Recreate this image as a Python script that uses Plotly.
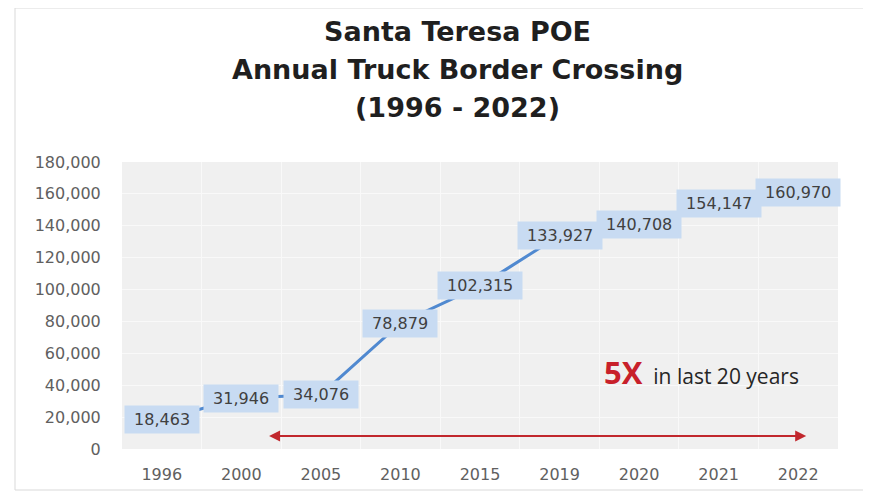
import plotly.graph_objects as go

years = ["1996", "2000", "2005", "2010", "2015", "2019", "2020", "2021", "2022"]
crossings = [18463, 31946, 34076, 78879, 102315, 133927, 140708, 154147, 160970]
y_ticks = [0, 20000, 40000, 60000, 80000, 100000, 120000, 140000, 160000, 180000]

title_lines = ["Santa Teresa POE", "Annual Truck Border Crossing", "(1996 - 2022)"]

TICK_FONT = "'DejaVu Sans', Verdana, sans-serif"
TITLE_FONT = "'DejaVu Sans', 'Open Sans', sans-serif"
NOTE_FONT = "'Open Sans', 'Noto Sans', sans-serif"

# plot area in div pixels (page has an 8px body margin)
W, H = 863, 486
L, T, R, B = 114, 154, 33, 45
PW, PH = W - L - R, H - T - B

fig = go.Figure()
fig.add_trace(go.Scatter(
    x=years, y=crossings, mode="lines",
    line=dict(color="#5089d0", width=3),
    hoverinfo="x+y", showlegend=False,
))

annotations = []
for i, v in enumerate(crossings):
    annotations.append(dict(
        x=i, y=v, xref="x", yref="y", text=f"&nbsp;{v:,}&nbsp;", showarrow=False,
        font=dict(family=TICK_FONT, size=16, color="#404040"),
        bgcolor="#c8dbf2", borderpad=4, xanchor="center", yanchor="middle",
    ))

# red double-headed arrow
annotations.append(dict(
    x=8.1, y=8200, ax=1.33, ay=8200, xref="x", yref="y", axref="x", ayref="y",
    text="", showarrow=True, arrowhead=2, arrowside="end+start",
    arrowsize=1.1, arrowwidth=2, arrowcolor="#c1272d",
))
annotations.append(dict(
    x=(701 - 8 - L) / PW, y=1 - (372 - 8 - T) / PH, xref="paper", yref="paper", showarrow=False,
    text="<b><span style='color:#c8202a;font-size:31px'>5X</span></b>&nbsp; in last 20 years",
    font=dict(family=NOTE_FONT, size=21, color="#262626"), xanchor="center", yanchor="middle",
))
for k, (line, ypix) in enumerate(zip(title_lines, [32, 70, 107])):
    annotations.append(dict(
        x=(457 - 8 - L) / PW, y=1 - (ypix - 8 - T) / PH, xref="paper", yref="paper",
        yanchor="middle", xanchor="center", showarrow=False,
        text="<b>" + line + "</b>",
        font=dict(family=TITLE_FONT, size=27, color="#1f1f1f"),
    ))

fig.update_layout(
    width=W, height=H,
    margin=dict(l=L, r=R, t=T, b=B),
    paper_bgcolor="white",
    plot_bgcolor="#f0f0f0",
    font=dict(family=TICK_FONT),
    annotations=annotations,
    shapes=[dict(type="rect", xref="paper", yref="paper",
                 x0=(7 - L) / PW, x1=(857 - L) / PW, y0=-(482 - (T + PH)) / PH, y1=1 + (T - 0) / PH,
                 line=dict(color="#d9d9d9", width=1), fillcolor="rgba(0,0,0,0)", layer="below")],
)
fig.update_xaxes(
    type="category", range=[-0.5, 8.5], tickson="boundaries", automargin=False,
    showgrid=True, gridcolor="#f9f9f9", showline=False, zeroline=False,
    ticks="", ticklabelstandoff=14,
    tickfont=dict(family=TICK_FONT, size=16, color="#606060"),
)
fig.update_yaxes(
    range=[0, 180000], tickvals=y_ticks, tickformat=",d", automargin=False,
    showgrid=True, gridcolor="#f9f9f9", zeroline=False, showline=False,
    ticks="outside", ticklen=17, tickcolor="rgba(0,0,0,0)",
    tickfont=dict(family=TICK_FONT, size=16, color="#606060"),
)

fig.write_html("out.html")
